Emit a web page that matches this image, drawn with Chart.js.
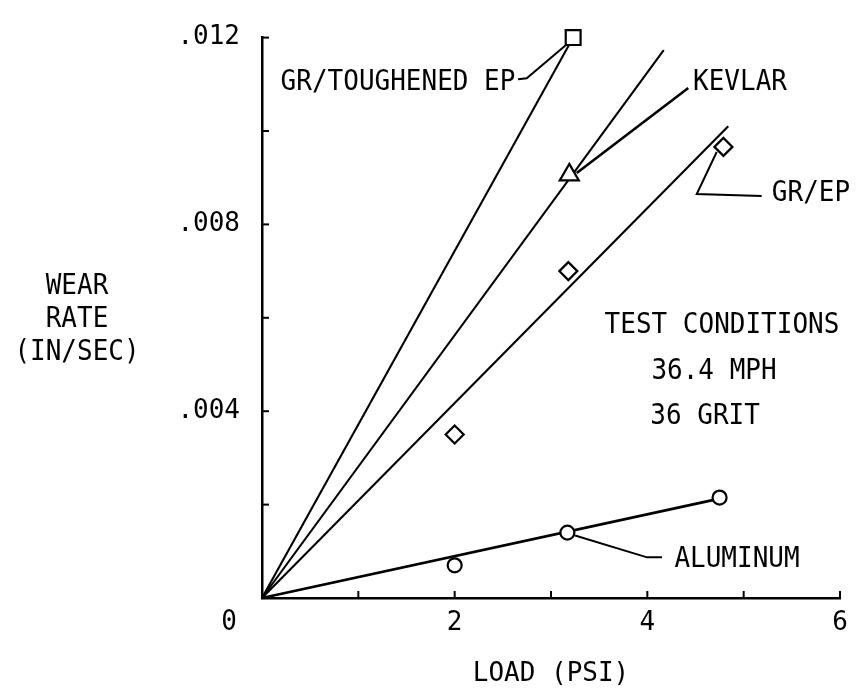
<!DOCTYPE html>
<html><head><meta charset="utf-8">
<script src="https://cdn.jsdelivr.net/npm/chart.js@4/dist/chart.umd.min.js"></script>
<style>html,body{margin:0;padding:0;background:#fff}#wrap{width:863px;height:693px;position:relative}</style>
</head><body><div id="wrap"><canvas id="c"></canvas></div>
<script>
// ---------- DATA ----------
const xTickValues = [0, 1, 2, 3, 4, 5, 6];
const xTickLabels = ['', '', '2', '', '4', '', '6'];
const yTickValues = [0, 0.002, 0.004, 0.006, 0.008, 0.010, 0.012];
const yTickLabels = ['', '', '.004', '', '.008', '', '.012'];
const originLabel = '0';
const xTitle = 'LOAD (PSI)';
const yTitleLines = ['WEAR', 'RATE', '(IN/SEC)'];

// measured points
const grToughenedLoad = [3.23];
const grToughenedWear = [0.0120];
const kevlarLoad = [3.19];
const kevlarWear = [0.00906];
const grEpLoad = [2.0, 3.18, 4.79];
const grEpWear = [0.0035, 0.0070, 0.00966];
const aluminumLoad = [2.0, 3.17, 4.75];
const aluminumWear = [0.0007, 0.0014, 0.00215];

// fitted straight lines through origin: end points
const fitNames = ['GR/TOUGHENED EP', 'KEVLAR', 'GR/EP', 'ALUMINUM'];
const fitEndLoad = [3.23, 4.17, 4.84, 4.75];
const fitEndWear = [0.0120, 0.01173, 0.0101, 0.00213];

// text notes
const noteTexts = ['GR/TOUGHENED EP', 'KEVLAR', 'GR/EP', 'ALUMINUM', 'TEST CONDITIONS', '36.4 MPH', '36 GRIT'];
const noteLoad = [1.412, 4.962, 5.699, 4.931, 4.775, 4.692, 4.60];
const noteWear = [0.01103, 0.01105, 0.00867, 0.00083, 0.00583, 0.00486, 0.00389];

// leader lines (label -> marker)
const leaderLoad = [[3.165, 2.748, 2.658], [4.425, 3.267], [4.72, 4.513, 5.187], [3.25, 3.997, 4.152]];
const leaderWear = [[0.01186, 0.01113, 0.01111], [0.01092, 0.0091], [0.00955, 0.00865, 0.00861], [0.00134, 0.00087, 0.00087]];

// ---------- CHART ----------
const FONT = '"DejaVu Sans Mono", "Liberation Mono", monospace';
const toPts = (xs, ys) => xs.map((x, i) => ({x: x, y: ys[i]}));

const markerBase = {showLine: false, clip: false, borderColor: '#000', backgroundColor: '#fff', borderWidth: 2, pointBorderWidth: 2.2, pointBackgroundColor: '#fff', pointBorderColor: '#000'};
const datasets = [
  Object.assign({label: 'GR/TOUGHENED EP', data: toPts(grToughenedLoad, grToughenedWear), pointStyle: 'rect', pointRadius: 10.5}, markerBase),
  Object.assign({label: 'KEVLAR', data: toPts(kevlarLoad, kevlarWear), pointStyle: 'triangle', pointRadius: 11}, markerBase),
  Object.assign({label: 'GR/EP', data: toPts(grEpLoad, grEpWear), pointStyle: 'rectRot', pointRadius: 9}, markerBase),
  Object.assign({label: 'ALUMINUM', data: toPts(aluminumLoad, aluminumWear), pointStyle: 'circle', pointRadius: 7}, markerBase)
];
fitNames.forEach((n, i) => {
  datasets.push({label: n + ' fit', data: [{x: 0, y: 0}, {x: fitEndLoad[i], y: fitEndWear[i]}], showLine: true, clip: false, borderColor: '#000', borderWidth: i === 3 ? 2.8 : 2.1, pointRadius: 0, fill: false});
});
leaderLoad.forEach((xs, i) => {
  datasets.push({label: 'leader ' + i, data: toPts(xs, leaderWear[i]), showLine: true, clip: false, borderColor: '#000', borderWidth: i === 1 ? 2.6 : 2, pointRadius: 0, fill: false});
});

const decor = {
  id: 'decor',
  afterDraw(chart) {
    const ctx = chart.ctx, xs = chart.scales.x, ys = chart.scales.y, a = chart.chartArea;
    ctx.save();
    ctx.strokeStyle = '#000'; ctx.lineWidth = 2;
    // inward tick marks
    xTickValues.forEach(v => { if (v === 0) return; const px = xs.getPixelForValue(v); ctx.beginPath(); ctx.moveTo(px, a.bottom); ctx.lineTo(px, a.bottom - 7); ctx.stroke(); });
    yTickValues.forEach(v => { if (v === 0) return; const py = ys.getPixelForValue(v); ctx.beginPath(); ctx.moveTo(a.left, py); ctx.lineTo(a.left + 7, py); ctx.stroke(); });
    ctx.fillStyle = '#000';
    ctx.font = '26px ' + FONT;
    ctx.textAlign = 'center'; ctx.textBaseline = 'middle';
    const tall = (t, x, y) => { ctx.save(); ctx.translate(x, y); ctx.scale(1, 1.12); ctx.fillText(t, 0, 0); ctx.restore(); };
    noteTexts.forEach((t, i) => tall(t, xs.getPixelForValue(noteLoad[i]), ys.getPixelForValue(noteWear[i])));
    // y title (horizontal, three lines)
    yTitleLines.forEach((t, i) => tall(t, 77, 286 + i * 33));
    // origin "0"
    tall(originLabel, a.left - 33, a.bottom + 24);
    ctx.restore();
  }
};

new Chart(document.getElementById('c'), {
  type: 'scatter',
  data: {datasets: datasets},
  options: {
    responsive: true, maintainAspectRatio: false, animation: false,
    layout: {padding: {top: 18, right: 23, left: 0, bottom: 0}},
    plugins: {legend: {display: false}, tooltip: {enabled: false}},
    scales: {
      x: {
        type: 'linear', min: 0, max: 6,
        afterFit: s => { s.height = 95; },
        afterBuildTicks: s => { s.ticks = xTickValues.map(v => ({value: v})); },
        grid: {display: false, drawTicks: false},
        border: {display: true, color: '#000', width: 2.5},
        ticks: {autoSkip: false, maxRotation: 0, padding: 10, color: '#000', font: {family: FONT, size: 26}, callback: (v, i) => xTickLabels[i]},
        title: {display: true, text: xTitle, color: '#000', font: {family: FONT, size: 26, lineHeight: 1.2}, padding: {top: 0, bottom: 3}}
      },
      y: {
        type: 'linear', min: 0, max: 0.012,
        afterFit: s => { s.width = 262; },
        afterBuildTicks: s => { s.ticks = yTickValues.map(v => ({value: v})); },
        grid: {display: false, drawTicks: false},
        border: {display: true, color: '#000', width: 2.5},
        ticks: {autoSkip: false, padding: 22, color: '#000', font: {family: FONT, size: 26}, callback: (v, i) => yTickLabels[i]}
      }
    }
  },
  plugins: [decor]
});
</script></body></html>
